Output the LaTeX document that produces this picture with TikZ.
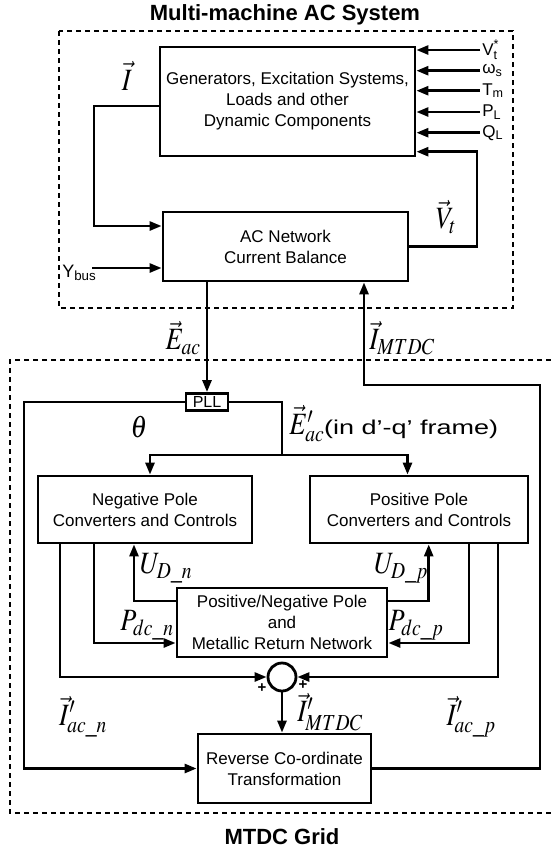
\documentclass[tikz,border=0pt]{standalone}
\usepackage{amsmath}
\usepackage{mathptmx}
\usepackage{fontspec}
\setmainfont{Liberation Sans}
\usetikzlibrary{arrows.meta}
\usetikzlibrary{calc}

\newcommand{\sigtext}[1]{\scalebox{0.85}[1]{$#1$}}

\begin{document}
\begin{tikzpicture}[x = 1pt, y = -1pt, line width = 2.6pt,
	>={Triangle[length=12pt, width=9pt]},
	block/.style = {draw, rectangle, line width = 2.8pt, align = center, inner sep = 0pt, font = \fontsize{17}{21}\selectfont},
	sig/.style = {font = \fontsize{17}{20}\selectfont},
	vlab/.style = {font = \fontsize{31}{33}\selectfont},
	head/.style = {font = \fontsize{22}{26}\selectfont\bfseries},
	frame/.style = {line width = 2.6pt, dash pattern = on 5pt off 4pt}]
		\useasboundingbox (0, 0) rectangle (551, 852);
		
		\node (actitle) [head] at (285, 15) {Multi-machine AC System};
		\node (dctitle) [head] at (282, 837) {MTDC Grid};
		
		\begin{scope}[every node/.style = {block}]
		\node (gen) [minimum width = 255pt, minimum height = 109pt] at (287.5, 101.5) {Generators, Excitation Systems,\\Loads and other\\Dynamic Components};
		\node (acnet) [minimum width = 245pt, minimum height = 69pt] at (285.5, 246.5) {AC Network\\Current Balance};
		\node (pll) [minimum width = 42pt, minimum height = 17pt, font = \fontsize{16}{17}\selectfont] at (207, 402) {PLL};
		\node (negconv) [minimum width = 214pt, minimum height = 67pt] at (145, 509.5) {Negative Pole\\Converters and Controls};
		\node (posconv) [minimum width = 218pt, minimum height = 67pt] at (419, 509.5) {Positive Pole\\Converters and Controls};
		\node (retnet) [minimum width = 210pt, minimum height = 69pt] at (282, 622.5) {Positive/Negative Pole\\and\\Metallic Return Network};
		\node (revtrans) [minimum width = 173pt, minimum height = 69pt] at (284.5, 768.5) {Reverse Co-ordinate\\Transformation};
		\end{scope}
		\node (sum) [draw, circle, line width = 2.8pt, minimum size = 28pt, inner sep = 0pt] at (282, 677) {};
		
		\draw [frame] (59, 31) rectangle (513, 308);
		\draw [frame] (551, 360) -- (10, 360) -- (10, 813) -- (551, 813);
		
		% inputs of the machines
		\foreach \yy/\name/\txt in {50/vref/{V$_{\text{t}}^{\text{*}}$}, 70.7/ws/{$\text{ω}_{\text{s}}$}, 90.7/tm/{T$_{\text{m}}$}, 112/pl/{P$_{\text{L}}$}, 132.7/ql/{Q$_{\text{L}}$}}
		{
			\node (\name) [sig, anchor = west, inner sep = 1pt] at (480, \yy) {\txt};
			\draw [->] (\name.west) -- (gen.east |- \name.west);
		}
		
		\draw [->] ([yshift = -4.5pt]gen.west) -| (94, 226) -- (acnet.west |- 94, 226);
		\coordinate (ybusin) at (92, 268);
		\node (ybus) [font = \fontsize{18}{20}\selectfont, anchor = base west, inner sep = 0pt] at (61, 277) {Y\textsubscript{bus}};
		\draw [->] (ybusin) -- (acnet.west |- ybusin);
		\draw [->] (acnet.east) -| (477, 151.7) -- (gen.east |- 477, 151.7);
		
		\node (ivec) [vlab] at (127, 76) {\sigtext{\vec{I}}};
		\node (vtvec) [vlab] at (446, 217) {\sigtext{\vec{V}_t}};
		\node (eac) [vlab] at (183, 338) {\sigtext{\vec{E}_{ac}}};
		\node (imtdc) [vlab] at (402, 338) {\sigtext{\vec{I}_{MTDC}}};
		
		% AC side <-> DC side
		\draw [->] (acnet.south -| pll.north) -- (pll.north);
		\draw [->] (revtrans.east) -| (540, 385) -- (364, 385) -- (acnet.south -| 364, 385);
		
		% PLL
		\draw [->] (pll.west) -| (24, 768.5) -- (revtrans.west);
		\node (theta) [vlab] at (139, 427) {\sigtext{\theta}};
		\coordinate (split) at (282, 455);
		\draw (pll.east) -| (split);
		\draw [->] (split) -| ([xshift = 5pt]negconv.north);
		\draw [->] (split) -| ([xshift = -11.5pt]posconv.north);
		\node (edq) [anchor = west, inner sep = 0pt] at (288, 424) {\fontsize{31}{33}\selectfont\sigtext{\vec{E}'_{ac}}\scalebox{1.35}[1]{\fontsize{20}{22}\selectfont(in d’-q’ frame)}};
		
		% converters and return network
		\draw [->] ([yshift = 21.5pt]retnet.west) -| (negconv.south -| 134, 0);
		\draw [->] (negconv.south -| 94, 0) |- ([yshift = -20.5pt]retnet.west);
		\draw [->] (negconv.south -| 60, 0) |- (sum.west);
		\draw [->] ([yshift = 21.5pt]retnet.east) -| (posconv.south -| 428.7, 0);
		\draw [->] (posconv.south -| 469, 0) |- ([yshift = -20.5pt]retnet.east);
		\draw [->] (posconv.south -| 498, 0) |- (sum.east);
		\draw [->] (sum.south) -- (revtrans.north -| sum.south);
		
		\node (udn) [vlab] at (166, 568) {\sigtext{U_{D\_n}}};
		\node (pdcn) [vlab] at (147, 625) {\sigtext{P_{dc\_n}}};
		\node (udp) [vlab] at (401, 568) {\sigtext{U_{D\_p}}};
		\node (pdcp) [vlab] at (416, 625) {\sigtext{P_{dc\_p}}};
		\node (iacn) [vlab] at (83, 717) {\sigtext{\vec{I}'_{ac\_n}}};
		\node (iacp) [vlab] at (471, 717) {\sigtext{\vec{I}'_{ac\_p}}};
		\node (imtdcp) [vlab] at (330, 712) {\sigtext{\vec{I}'_{MTDC}}};
		\node (plusn) [font = \fontsize{15}{15}\selectfont\bfseries] at (262, 688) {+};
		\node (plusp) [font = \fontsize{15}{15}\selectfont\bfseries] at (303, 685) {+};
\end{tikzpicture}
\end{document}
